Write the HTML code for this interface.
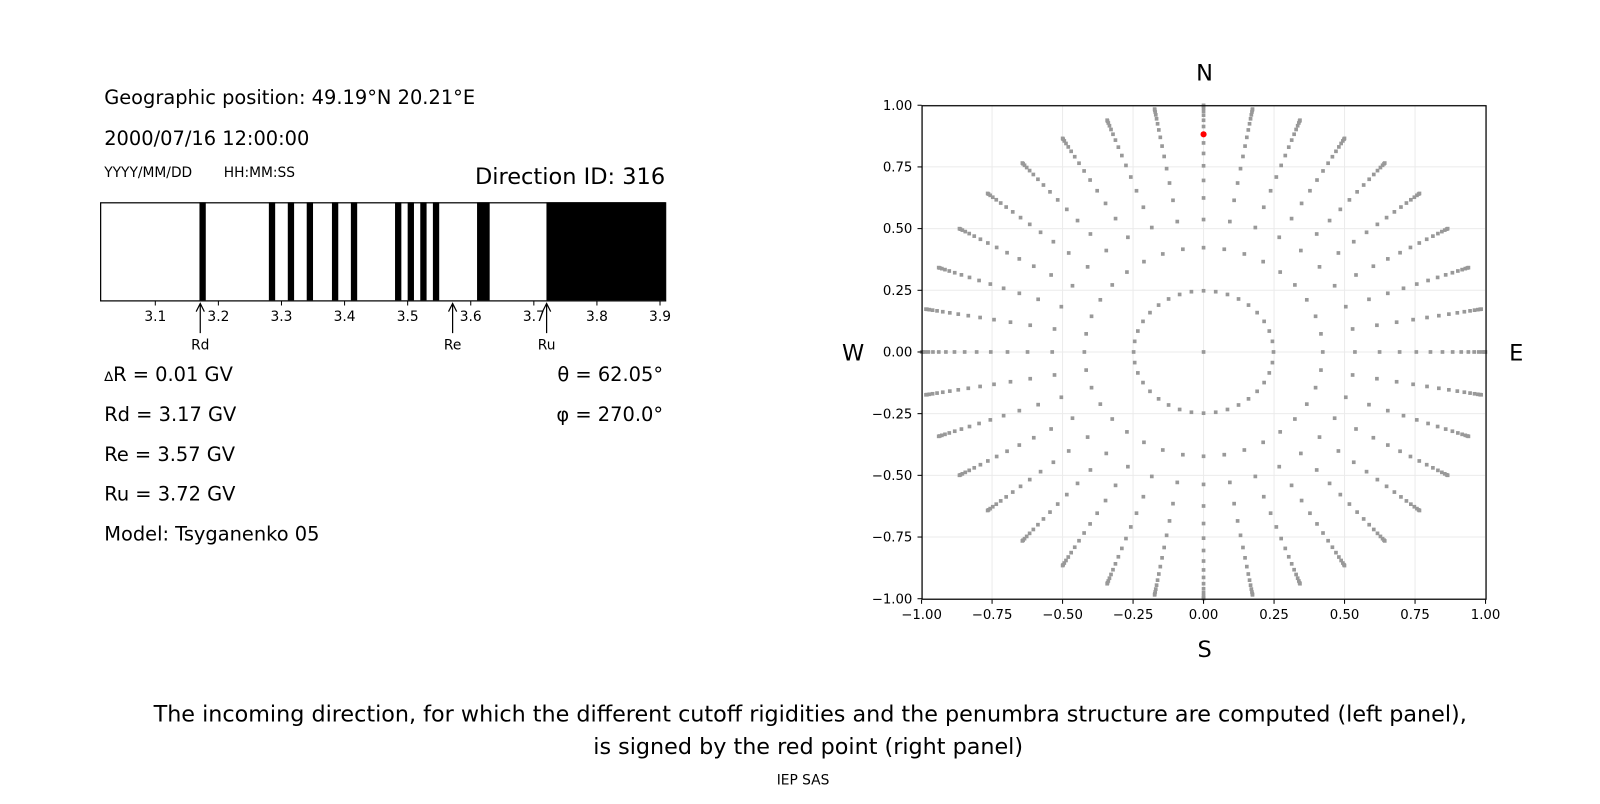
<!DOCTYPE html>
<html><head><meta charset="utf-8"><style>
body{margin:0;background:#fff;width:1600px;height:800px;overflow:hidden;font-family:"DejaVu Sans","Liberation Sans",sans-serif}
svg text{font-family:"DejaVu Sans","Liberation Sans",sans-serif}
</style></head><body>
<svg width="1600" height="800" xmlns="http://www.w3.org/2000/svg">
<g transform="scale(1.0217)">
<text x="102" y="102" font-size="19">Geographic position: 49.19°N 20.21°E</text>
<text x="102" y="142" font-size="19">2000/07/16 12:00:00</text>
<text x="102" y="173" font-size="13.5">YYYY/MM/DD</text>
<text x="219" y="173" font-size="13.5">HH:MM:SS</text>
<text x="651" y="180" font-size="22" text-anchor="end">Direction ID: 316</text>
<g id="bar"></g>
<rect x="98.5" y="198.5" width="553" height="96" fill="none" stroke="#000" stroke-width="1.2"/>
<g font-size="13.5" text-anchor="middle" id="bt"></g>
<g font-size="13.5" text-anchor="middle">
<text x="196" y="342">Rd</text><text x="443" y="342">Re</text><text x="535" y="342">Ru</text>
</g>
<g stroke="#000" stroke-width="1.2" fill="none">
<path d="M196 326V298M192 305L196 297L200 305"/>
<path d="M443 326V298M439 305L443 297L447 305"/>
<path d="M535 326V298M531 305L535 297L539 305"/>
</g>
<g font-size="19">
<text x="102" y="373"><tspan font-size="13">∆</tspan>R = 0.01 GV</text>
<text x="102" y="412">Rd = 3.17 GV</text>
<text x="102" y="451">Re = 3.57 GV</text>
<text x="102" y="490">Ru = 3.72 GV</text>
<text x="102" y="529">Model: Tsyganenko 05</text>
<text x="649" y="373" text-anchor="end">θ = 62.05°</text>
<text x="649" y="412" text-anchor="end">φ = 270.0°</text>
</g>
<g id="grid" stroke="#ebebeb" stroke-width="1"></g>
<g id="dots" fill="#999"></g>
<circle cx="1178" cy="131.5" r="3" fill="#f00"/>
<rect x="902.5" y="103.5" width="552" height="483" fill="none" stroke="#000" stroke-width="1.2"/>
<g id="ticks" font-size="13"></g>
<g font-size="22" text-anchor="middle">
<text x="1179" y="79">N</text><text x="1179" y="643">S</text>
<text x="835" y="353">W</text><text x="1484" y="353">E</text>
</g>
<g font-size="21.8" text-anchor="middle">
<text x="793" y="706">The incoming direction, for which the different cutoff rigidities and the penumbra structure are computed (left panel),</text>
<text x="791" y="738">is signed by the red point (right panel)</text>
</g>
<text x="786" y="768" font-size="13.5" text-anchor="middle">IEP SAS</text>
</g>
</svg>
<script>
var NS="http://www.w3.org/2000/svg";
function el(p,t,a,txt){var e=document.createElementNS(NS,t);for(var k in a)e.setAttribute(k,a[k]);if(txt!==undefined)e.textContent=txt;document.getElementById(p).appendChild(e);}
function bx(v){return 152+(v-3.1)*617.5;}
var bands=[[3.17,3.18],[3.28,3.29],[3.31,3.32],[3.34,3.35],[3.38,3.39],[3.41,3.42],[3.48,3.49],[3.50,3.51],[3.52,3.53],[3.54,3.55],[3.61,3.63],[3.72,3.95]];
bands.forEach(function(b){var x1=bx(b[0]),x2=Math.min(bx(b[1]),651);el("bar","rect",{x:x1,y:198,width:x2-x1,height:96,fill:"#000"});});
for(var i=1;i<=9;i++){var v=3+i/10,x=bx(v);el("bt","line",{x1:x,x2:x,y1:295,y2:299,stroke:"#000"});el("bt","text",{x:x,y:314},v.toFixed(1));}
var cx=1178,cy=344.5,sx=276,sy=241.5;
for(var i=0;i<=8;i++){var v=-1+i*0.25,x=cx+v*sx,y=cy-v*sy;
el("grid","line",{x1:x,x2:x,y1:103,y2:586});el("grid","line",{x1:902,x2:1454,y1:y,y2:y});
el("ticks","line",{x1:x,x2:x,y1:587,y2:591,stroke:"#000"});
el("ticks","text",{x:x,y:606,"text-anchor":"middle"},v.toFixed(2).replace("-","−"));
el("ticks","line",{x1:898,x2:902,y1:y,y2:y,stroke:"#000"});
el("ticks","text",{x:893,y:y+4.5,"text-anchor":"end"},v.toFixed(2).replace("-","−"));}
function dot(r,a){el("dots","rect",{x:cx+r*Math.cos(a)*sx-1.8,y:cy-r*Math.sin(a)*sy-1.8,width:3.6,height:3.6});}
dot(0,0);
for(var k=1;k<=16;k++){var c=1-0.0625*(k-0.5),r=Math.sqrt(1-c*c);
for(var a=0;a<360;a+=10)dot(r,a*Math.PI/180);}
</script>
</body></html>
